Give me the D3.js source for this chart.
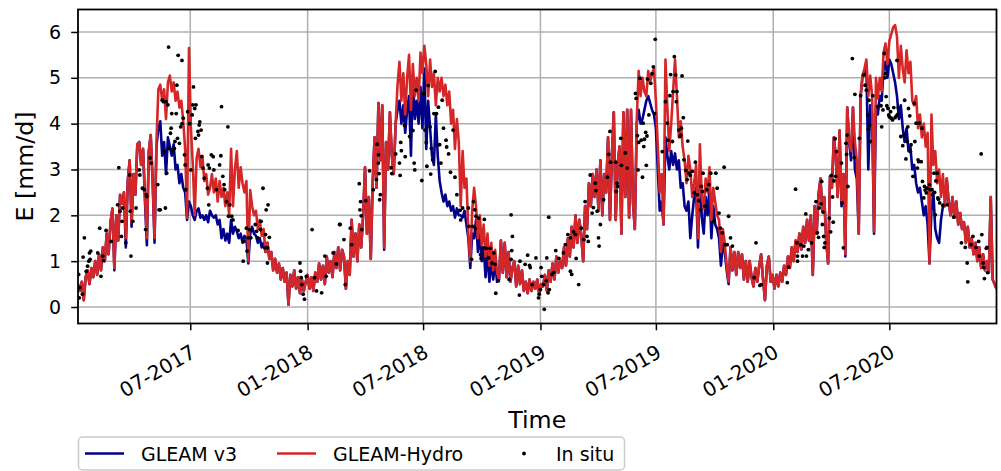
<!DOCTYPE html>
<html>
<head>
<meta charset="utf-8">
<script src="https://cdn.jsdelivr.net/npm/d3@7"></script>
<style>
  body { margin: 0; background: #fff; }
  svg { display: block; font-family: "DejaVu Sans", sans-serif; }
</style>
</head>
<body>
<svg id="chart" width="1001" height="471"></svg>
<script>
// Daily evaporation series, sampled every third day from the start date
const startDate = "2017-01-06";
const stepDays = 3;

const gleamHydro = [
  0.5,0.35,0.55,0.15,0.65,0.8,0.5,0.85,0.65,1.0,
  0.7,1.15,0.8,1.3,1.0,1.6,1.15,1.85,2.15,0.85,
  2.0,1.45,2.45,2.25,2.5,1.5,2.75,3.2,1.85,2.9,
  2.45,3.55,3.6,3.1,3.45,2.45,1.5,3.4,3.75,2.75,
  1.5,3.6,4.75,4.85,4.5,4.75,4.1,4.9,5.05,4.7,
  4.9,4.5,4.7,4.35,4.5,4.05,3.45,1.95,5.65,3.9,
  3.1,2.0,3.25,3.45,3.05,3.3,2.75,2.9,2.45,
  2.6,2.9,2.5,2.8,2.3,2.75,2.4,2.6,2.2,2.5,
  2.0,3.45,2.2,3.0,3.4,2.6,3.05,2.7,2.5,2.75,
  1.0,2.55,2.2,2.0,2.1,1.7,1.9,1.55,1.7,1.2,
  1.4,1.05,1.2,0.8,1.05,0.75,0.95,0.6,0.85,0.55,
  0.75,0.05,0.7,0.45,0.8,0.4,0.65,0.3,0.6,0.35,
  0.55,0.7,0.4,0.65,0.35,0.75,0.55,0.95,0.6,0.9,
  0.5,1.1,0.75,1.0,0.65,1.2,0.85,1.3,0.8,1.25,
  1.1,0.4,1.0,0.7,1.9,1.1,1.6,1.0,1.8,1.3,
  2.0,3.05,1.6,2.4,1.05,2.7,3.7,2.6,4.45,3.2,
  4.4,1.3,3.6,3.0,4.25,3.3,2.9,4.0,4.85,5.35,
  4.5,5.1,4.2,5.0,5.5,4.3,5.3,4.6,5.0,4.5,
  5.55,5.1,5.7,5.3,4.6,5.4,4.8,5.1,4.4,5.0,
  4.7,5.0,4.6,4.85,4.4,4.7,4.0,4.3,3.45,4.1,
  3.6,2.2,3.4,2.6,2.8,1.6,1.0,2.1,2.6,
  2.2,1.5,2.0,1.35,1.8,1.1,1.6,0.9,1.4,0.8,
  1.25,0.75,0.6,1.45,0.75,1.4,0.65,1.2,0.55,0.85,
  1.0,0.45,0.9,0.5,0.8,0.35,0.55,0.3,0.6,0.35,
  0.55,0.4,0.6,0.3,0.5,0.45,0.7,0.35,0.8,0.55,
  0.95,0.6,1.1,0.75,1.0,0.85,1.3,0.9,1.5,1.1,
  1.75,1.3,2.0,1.4,1.9,1.55,1.0,2.2,1.7,2.7,
  2.2,2.9,2.4,3.0,2.1,3.2,2.0,2.9,2.5,
  3.7,1.9,3.3,4.25,1.9,3.1,3.5,1.6,4.25,2.4,
  4.3,1.95,4.3,2.3,1.7,4.1,5.15,4.6,5.0,4.7,
  4.6,5.15,4.9,5.1,5.2,4.5,3.5,2.5,2.9,1.8,
  5.4,4.35,3.4,4.0,4.7,5.4,4.6,3.7,4.05,3.5,
  3.2,2.7,3.3,3.0,2.4,2.7,3.1,1.5,3.55,2.4,
  2.15,2.8,2.5,3.05,1.9,2.6,2.3,2.0,1.9,1.2,
  1.7,1.4,0.9,0.55,1.3,0.8,1.2,0.7,1.2,
  0.85,1.15,0.6,1.0,0.55,1.0,0.65,0.45,0.85,0.55,
  0.9,1.15,0.6,0.15,0.9,1.1,0.55,0.7,0.4,0.7,
  0.45,0.75,0.55,0.9,0.7,1.1,0.85,1.3,1.0,1.45,
  1.2,1.6,1.25,1.75,1.4,1.9,1.45,2.0,0.7,2.2,
  1.6,2.45,2.8,2.1,2.4,1.45,0.95,2.85,2.6,3.7,
  3.3,2.4,3.85,2.3,2.9,1.15,4.35,3.6,3.4,4.35,
  3.6,3.2,1.6,4.6,5.05,5.2,5.4,4.6,5.05,
  4.6,1.65,5.0,4.55,5.0,4.7,5.55,5.75,5.3,5.8,
  5.95,6.1,6.15,5.9,5.0,5.7,5.2,4.9,5.6,5.1,
  5.35,4.5,4.4,4.6,3.9,4.2,3.7,4.0,3.5,3.8,
  0.95,4.2,3.1,3.4,2.7,3.0,2.4,2.9,2.2,2.8,
  2.3,2.0,2.4,1.95,2.3,1.8,2.05,1.7,1.85,1.4,
  1.75,1.3,1.5,1.15,1.4,1.0,1.3,0.85,1.15,0.8,
  1.0,0.75,2.4,0.6,0.5,0.4
];

const gleamV3 = [
  0.5,0.35,0.55,0.15,0.65,0.8,0.5,0.85,0.65,1.0,
  0.7,1.15,0.8,1.3,1.0,1.6,1.15,1.85,2.15,0.8,
  2.0,1.45,2.45,2.25,2.5,1.3,2.75,3.2,1.75,2.9,
  2.45,3.55,3.6,3.1,3.45,2.3,1.35,3.4,3.75,2.75,
  1.4,3.5,3.9,4.05,3.3,3.6,2.9,3.7,3.5,3.3,
  3.55,3.0,3.1,2.7,2.9,2.6,2.5,1.9,2.3,2.2,
  2.0,1.9,2.1,2.15,1.95,2.0,1.9,2.0,1.85,
  2.1,2.0,1.95,2.0,1.8,1.9,1.5,1.7,1.45,1.6,
  1.4,1.9,1.6,1.75,1.65,1.5,1.6,1.4,1.55,1.5,
  0.95,1.6,1.75,1.6,1.55,1.4,1.5,1.3,1.4,1.2,
  1.4,1.05,1.2,0.8,1.05,0.75,0.95,0.6,0.85,0.55,
  0.75,0.05,0.7,0.45,0.8,0.4,0.65,0.3,0.6,0.35,
  0.55,0.7,0.4,0.65,0.35,0.75,0.55,0.95,0.6,0.9,
  0.5,1.1,0.75,1.0,0.65,1.2,0.85,1.3,0.8,1.25,
  1.1,0.4,1.0,0.7,1.9,1.1,1.6,1.0,1.8,1.3,
  2.0,3.05,1.6,2.4,1.05,2.7,3.7,2.6,4.45,3.2,
  4.4,1.25,3.6,3.0,4.25,3.3,2.9,4.0,4.3,4.5,
  4.0,4.4,3.8,4.3,4.6,3.3,5.0,4.1,4.5,4.0,
  4.8,3.9,5.2,3.45,4.5,3.9,3.3,3.1,4.2,3.3,
  2.75,2.5,2.3,2.45,2.2,2.3,2.1,2.2,1.95,2.15,
  2.0,2.0,1.95,2.1,1.8,1.5,0.85,1.6,1.5,
  1.9,1.2,1.6,1.0,1.3,0.65,1.2,0.55,1.0,0.6,
  1.0,0.55,0.6,1.45,0.75,1.4,0.65,1.2,0.55,0.85,
  1.0,0.45,0.9,0.5,0.8,0.35,0.55,0.3,0.6,0.35,
  0.55,0.4,0.6,0.3,0.5,0.45,0.7,0.35,0.8,0.55,
  0.95,0.6,1.1,0.75,1.0,0.85,1.3,0.9,1.5,1.1,
  1.75,1.3,2.0,1.4,1.9,1.55,1.0,2.2,1.7,2.7,
  2.2,2.9,2.4,3.0,2.1,3.2,2.0,2.9,2.5,
  3.7,1.9,3.3,4.25,1.9,3.1,3.5,1.6,4.25,2.4,
  4.3,1.95,4.3,2.3,1.7,4.0,4.3,4.0,4.1,4.3,
  4.5,4.6,4.45,4.3,4.2,3.9,3.0,2.1,2.3,1.8,
  3.7,3.3,3.0,3.4,3.1,3.35,3.0,3.2,2.6,2.7,
  2.2,2.1,2.3,1.5,2.0,2.4,2.6,1.3,2.9,1.95,
  1.6,2.4,2.0,2.6,1.5,2.2,1.8,1.7,1.5,0.9,
  1.4,1.2,0.8,0.5,1.3,0.8,1.2,0.7,1.2,
  0.85,1.15,0.6,1.0,0.55,1.0,0.65,0.45,0.85,0.55,
  0.9,1.15,0.6,0.15,0.9,1.1,0.55,0.7,0.4,0.7,
  0.45,0.75,0.55,0.9,0.7,1.1,0.85,1.3,1.0,1.45,
  1.2,1.6,1.25,1.75,1.4,1.9,1.45,2.0,0.7,2.2,
  1.6,2.45,2.8,2.1,2.4,1.45,0.95,2.85,2.6,3.7,
  3.3,2.4,3.85,2.2,2.9,1.1,4.35,3.6,3.2,4.35,
  3.0,2.8,1.6,4.6,5.05,5.1,5.3,3.0,4.4,
  4.2,1.6,4.4,4.2,4.6,4.5,5.2,5.35,5.0,5.4,
  5.3,5.1,4.9,4.6,4.1,4.4,3.9,3.6,3.9,3.4,
  3.5,3.0,3.1,2.7,2.5,2.6,2.3,2.0,2.2,1.8,
  0.95,2.1,2.5,1.7,1.5,1.4,1.9,2.2,2.2,2.8,
  2.3,2.0,2.4,1.95,2.3,1.8,2.05,1.7,1.85,1.4,
  1.75,1.3,1.5,1.15,1.4,1.0,1.3,0.85,1.15,0.8,
  1.0,0.75,2.4,0.6,0.5,0.4
];

// In situ observations: days since start date and evaporation (mm/d)
const insituDay = [
  1,2,3,7,8,10,13,15,17,18,19,20,31,34,36,39,40,44,52,62,64,66,68,69,70,75,81,82,83,86,91,96,97,101,104,106,107,108,113,115,
  125,127,129,132,134,135,137,138,139,141,142,143,145,146,147,149,151,152,154,155,156,157,159,161,163,163,165,167,168,169,
  172,175,177,179,180,181,183,184,185,188,189,190,191,193,194,196,198,203,205,
  204,206,209,212,213,217,222,224,225,227,229,230,233,235,236,238,241,243,251,259,260,264,265,267,269,271,278,280,282,286,
  287,290,293,294,295,297,298,300,297,348,349,350,351,353,355,358,367,371,374,382,387,389,400,405,410,
  411,417,419,427,429,441,442,443,445,444,451,457,463,468,469,471,472,471,473,474,491,492,498,504,505,506,507,513,512,520,
  525,527,528,530,539,542,544,546,547,549,552,553,554,556,558,560,562,565,567,569,571,573,577,578,581,584,588,591,594,599,
  600,603,612,613,617,619,
  620,622,623,624,628,637,631,632,636,640,644,646,649,652,654,655,659,679,681,680,679,676,692,693,701,705,708,709,712,718,
  722,723,725,726,727,730,731,734,735,737,738,739,743,746,749,754,761,764,768,772,772,774,777,780,781,785,789,793,795,798,
  800,803,806,808,811,812,814,816,817,819,824,
  830,832,834,835,843,844,845,846,851,852,858,861,874,875,877,878,879,881,883,885,886,887,888,890,891,892,893,895,898,900,
  902,904,905,916,921,924,925,928,929,932,933,935,937,938,939,942,944,945,946,947,949,950,953,955,956,958,960,963,966,968,
  971,973,976,977,979,980,983,986,989,992,997,1000,1002,1005,1007,1010,1013,1015,1018,1020,1023,1026,
  1060,1063,1069,1071,1112,1114,1125,1127,1128,1128,1133,1136,1138,1141,1142,1145,1150,1157,1159,1161,1162,1165,1166,1168,
  1167,1169,1170,1171,1178,1180,1183,1184,1181,1185,1188,1189,1187,1197,1200,1198,1204,1205,1206,1207,1214,1217,1218,1225,
  1227,1232,1234,1236,1238,1239,
  1240,1241,1242,1246,1254,1259,1260,1262,1264,1265,1266,1267,1268,1270,1271,1272,1274,1275,1277,1279,1281,1283,1284,1285,
  1286,1290,1293,1295,1296,1298,1300,1301,1302,1304,1305,1306,1309,1311,1312,1314,1316,1317,1318,1319,1322,1323,1324,1326,
  1327,1328,1330,1331,1335,1336,1339,1340,1342,1343,1344,1345,1347,1348,1349,1351,1356,1363,1373,1385,1391,1394,1395,1400,
  1403,1408,1412,1413,1416,1417,1419,1420,1421,1424,1425,1426
];
const insituE = [
  0.71,0.2,0.42,0.28,1.09,1.51,0.78,0.89,1.0,1.18,1.04,1.22,1.18,1.72,0.67,1.11,1.01,1.67,1.43,2.23,3.04,2.09,1.54,1.87,2.16,1.4,2.88,2.09,1.11,1.87,2.16,2.99,2.88,2.59,2.56,1.69,2.45,2.41,3.25,3.14,
  2.67,2.12,2.12,4.51,4.48,3.39,2.16,4.48,2.92,4.41,5.67,3.46,3.79,3.9,4.22,3.39,3.46,3.61,4.22,4.84,3.68,5.49,3.57,3.93,5.38,4.0,4.12,3.32,3.1,2.56,
  4.26,4.0,2.99,4.19,4.41,4.8,4.33,3.68,4.41,3.83,3.75,3.97,4.04,3.86,3.28,3.03,2.81,2.59,2.23,
  3.1,3.03,3.32,3.28,2.99,2.56,3.1,3.3,4.37,2.85,2.67,2.56,2.3,3.93,1.98,2.23,1.98,1.9,1.67,1.0,1.43,1.72,1.22,1.51,1.69,1.51,1.8,1.65,1.51,1.69,
  1.87,2.59,1.29,1.58,2.12,1.29,2.23,1.52,0.96,0.96,0.78,0.64,0.49,0.28,0.17,0.67,1.69,0.64,0.35,0.31,1.11,0.67,1.18,0.94,1.8,
  1.8,1.47,0.49,1.72,1.36,2.69,2.12,2.3,1.69,1.99,2.32,2.97,2.56,2.78,3.55,3.32,2.91,3.14,2.34,2.45,3.04,2.91,3.34,3.14,2.87,3.59,3.41,3.28,3.96,3.72,
  3.85,3.14,2.99,4.73,2.76,4.66,3.86,3.59,3.07,4.83,3.93,2.9,3.46,3.21,4.22,5.14,4.22,4.36,3.54,3.14,4.51,3.9,3.64,3.49,3.34,2.94,3.86,2.83,2.45,2.11,
  1.9,2.16,2.16,1.76,1.04,1.76,
  2.3,2.12,1.71,1.98,1.94,1.91,1.14,1.06,1.29,1.28,1.07,1.28,0.96,1.18,0.93,0.3,0.57,2.01,1.54,1.23,1.04,0.6,0.26,1.0,0.93,1.13,0.91,0.86,0.49,1.07,
  0.2,0.28,0.38,0.86,0.67,0.49,-0.05,0.57,1.07,0.31,1.96,0.38,0.71,0.75,1.23,1.06,1.18,1.36,1.58,1.51,0.78,0.71,1.64,1.58,1.06,0.49,1.72,1.47,2.3,1.54,
  1.43,2.88,2.05,2.17,2.7,2.54,2.09,1.51,1.33,1.8,2.34,
  2.83,3.33,3.83,3.16,3.16,2.52,2.7,2.63,3.68,3.09,3.36,3.03,4.66,4.55,3.74,2.99,3.59,4.99,3.64,2.83,4.01,3.5,3.66,3.81,3.09,3.73,4.97,4.19,4.88,5.09,
  5.24,4.22,5.84,3.39,4.48,4.01,3.64,4.61,5.07,3.61,4.7,5.46,5.06,4.48,4.7,3.86,3.72,3.75,3.9,5.04,4.13,3.21,2.98,2.78,3.62,2.92,2.87,2.96,2.49,3.16,
  2.45,2.32,2.12,2.63,2.52,2.92,2.2,2.56,2.67,2.92,1.87,2.92,2.59,2.05,1.72,1.62,3.05,1.36,1.36,1.98,1.51,1.33,
  0.64,1.4,0.47,0.49,0.53,0.87,2.57,1.4,1.11,1.0,1.36,1.11,1.33,2.03,1.11,1.25,1.4,2.3,1.62,1.52,2.16,2.25,2.74,2.07,
  1.8,1.54,1.3,1.4,1.94,1.64,2.4,1.85,2.87,2.75,2.85,3.39,3.67,3.14,1.29,2.27,3.57,3.33,3.75,2.63,5.42,3.26,4.64,3.68,
  4.61,5.06,4.84,4.73,4.19,3.88,
  4.51,3.97,3.61,4.61,4.37,4.39,3.93,4.3,5.53,5.0,5.09,4.59,4.39,4.33,4.19,4.15,4.26,4.12,4.08,4.35,4.13,4.17,5.38,4.2,
  4.35,3.72,3.52,3.75,4.51,3.23,3.61,3.93,4.33,4.17,3.39,3.54,2.85,4.44,3.61,4.01,3.03,3.21,3.17,4.01,3.17,3.9,2.74,2.38,
  2.63,2.55,2.49,2.59,2.67,2.56,2.56,2.45,2.92,2.5,2.01,2.75,2.92,2.38,2.35,2.27,2.22,2.23,1.96,1.4,1.3,0.96,0.55,1.36,
  1.54,1.3,1.43,1.11,3.34,1.58,0.96,0.86,0.62,1.28,1.3,0.75
];

const yTicks = [0, 1, 2, 3, 4, 5, 6];
const xTickDates = ["2017-07-01", "2018-01-01", "2018-07-01", "2019-01-01", "2019-07-01", "2020-01-01", "2020-07-01"];
const xTickLabels = ["07-2017", "01-2018", "07-2018", "01-2019", "07-2019", "01-2020", "07-2020"];
const legendLabels = ["GLEAM v3", "GLEAM-Hydro", "In situ"];

const colorV3 = "#00008b";
const colorHydro = "#d62728";

const parse = d3.utcParse("%Y-%m-%d");
const t0 = parse(startDate);
const dateAt = i => d3.utcDay.offset(t0, i * stepDays);

const plot = { left: 78, right: 996.5, top: 9.5, bottom: 323.5 };

const x = d3.scaleUtc()
  .domain([t0, dateAt(gleamHydro.length - 1)])
  .range([plot.left, plot.right]);
const y = d3.scaleLinear()
  .domain([-0.36, 6.49])
  .range([plot.bottom, plot.top]);

const svg = d3.select("#chart");

svg.append("defs").append("clipPath").attr("id", "plot-clip")
  .append("rect")
  .attr("x", plot.left).attr("y", plot.top)
  .attr("width", plot.right - plot.left).attr("height", plot.bottom - plot.top);

// grid
const grid = svg.append("g").attr("stroke", "#b0b0b0").attr("stroke-width", 1.5);
grid.selectAll(".gy").data(yTicks).join("line")
  .attr("x1", plot.left).attr("x2", plot.right)
  .attr("y1", d => y(d)).attr("y2", d => y(d));
grid.selectAll(".gx").data(xTickDates).join("line")
  .attr("x1", d => x(parse(d))).attr("x2", d => x(parse(d)))
  .attr("y1", plot.top).attr("y2", plot.bottom);

// series
const line = d3.line()
  .x((d, i) => x(dateAt(i)))
  .y(d => y(d));

const data = svg.append("g").attr("clip-path", "url(#plot-clip)");
data.append("path")
  .datum(gleamV3)
  .attr("fill", "none")
  .attr("stroke", colorV3)
  .attr("stroke-width", 2.6)
  .attr("stroke-linejoin", "round")
  .attr("d", line);
data.append("path")
  .datum(gleamHydro)
  .attr("fill", "none")
  .attr("stroke", colorHydro)
  .attr("stroke-width", 2.6)
  .attr("stroke-linejoin", "round")
  .attr("d", line);
data.selectAll("circle").data(insituDay).join("circle")
  .attr("cx", d => x(d3.utcDay.offset(t0, d)))
  .attr("cy", (d, i) => y(insituE[i]))
  .attr("r", 1.9)
  .attr("fill", "#000");

// frame
svg.append("rect")
  .attr("x", plot.left).attr("y", plot.top)
  .attr("width", plot.right - plot.left).attr("height", plot.bottom - plot.top)
  .attr("fill", "none").attr("stroke", "#000").attr("stroke-width", 1.8);

// y axis
const yAxis = d3.axisLeft(y).tickValues(yTicks).tickSize(6.8).tickPadding(10).tickFormat(d3.format("d"));
const gy = svg.append("g").attr("transform", `translate(${plot.left},0)`).call(yAxis);
gy.select(".domain").remove();
gy.selectAll(".tick line").attr("stroke", "#000").attr("stroke-width", 1.5);
gy.selectAll(".tick text")
  .attr("font-family", "DejaVu Sans")
  .attr("font-size", 19).attr("fill", "#000");

// x axis
const xAxis = d3.axisBottom(x)
  .tickValues(xTickDates.map(parse))
  .tickSize(6.8)
  .tickFormat((d, i) => xTickLabels[i]);
const gx = svg.append("g").attr("transform", `translate(0,${plot.bottom})`).call(xAxis);
gx.select(".domain").remove();
gx.selectAll(".tick line").attr("stroke", "#000").attr("stroke-width", 1.5);
gx.selectAll(".tick text")
  .attr("font-family", "DejaVu Sans")
  .attr("font-size", 20).attr("fill", "#000")
  .attr("text-anchor", "end")
  .attr("x", 0).attr("y", 0).attr("dy", "0.73em")
  .attr("transform", "translate(-1,20) rotate(-30)");

// axis titles
svg.append("text")
  .attr("x", (plot.left + plot.right) / 2).attr("y", 427.5)
  .attr("text-anchor", "middle")
  .attr("font-size", 23.7).attr("fill", "#000")
  .text("Time");
svg.append("text")
  .attr("transform", `translate(33.3,${(plot.top + plot.bottom) / 2}) rotate(-90)`)
  .attr("text-anchor", "middle")
  .attr("font-size", 23.7).attr("fill", "#000")
  .text("E [mm/d]");

// legend
const lg = svg.append("g");
lg.append("rect")
  .attr("x", 78.5).attr("y", 437).attr("width", 546).attr("height", 33)
  .attr("rx", 4).attr("fill", "#fff").attr("stroke", "#cccccc").attr("stroke-width", 1.5);
const legendY = 453.5;
lg.append("line").attr("x1", 85).attr("x2", 124).attr("y1", legendY).attr("y2", legendY)
  .attr("stroke", colorV3).attr("stroke-width", 2.6);
lg.append("line").attr("x1", 277).attr("x2", 316).attr("y1", legendY).attr("y2", legendY)
  .attr("stroke", colorHydro).attr("stroke-width", 2.6);
lg.append("circle").attr("cx", 524).attr("cy", legendY).attr("r", 1.9).attr("fill", "#000");
const legendX = [141, 333, 556];
lg.selectAll("text.lbl").data(legendLabels).join("text")
  .attr("x", (d, i) => legendX[i]).attr("y", legendY + 7)
  .attr("font-size", 19).attr("fill", "#000")
  .text(d => d);
</script>
</body>
</html>
